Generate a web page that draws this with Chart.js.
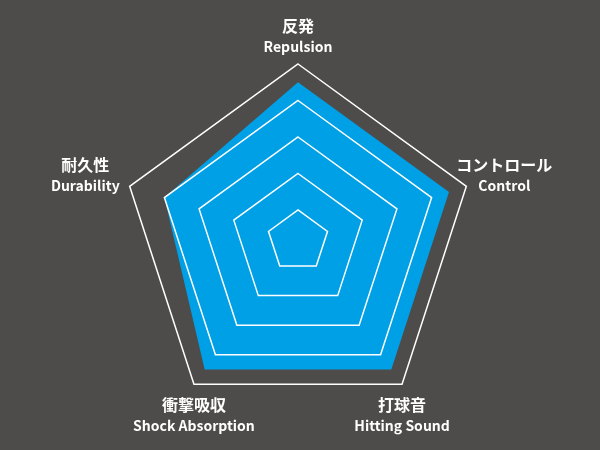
<!DOCTYPE html>
<html lang="ja">
<head>
  <meta charset="UTF-8">
  <script src="https://cdn.jsdelivr.net/npm/chart.js@4.4.0/dist/chart.umd.min.js"></script>
  <title>Radar</title>
  <style>
    body { margin: 0; background: #4e4c4a; }
  </style>
</head>
<body>
  <canvas id="myChart" width="600" height="450"></canvas>
  <script type="text/javascript">
    const labelsJa = ['反発', 'コントロール', '打球音', '衝撃吸収', '耐久性']
    const labelsEn = ['Repulsion', 'Control', 'Hitting Sound', 'Shock Absorption', 'Durability']
    const scores = [4.5, 4.5, 4.5, 4.5, 4.0]
    const scaleMin = 0.15
    const scaleMax = 5

    // two-line axis labels (japanese + english)
    const axisLabels = {
      id: 'axisLabels',
      afterDraw(chart) {
        const s = chart.scales.r
        const ctx = chart.ctx
        const jaFont = 'bold 16px "Noto Sans CJK JP"'
        const enFont = 'bold 14px "Noto Sans CJK JP"'
        ctx.save()
        ctx.fillStyle = '#ffffff'
        ctx.textAlign = 'center'
        ctx.textBaseline = 'alphabetic'
        labelsJa.forEach((ja, i) => {
          const en = labelsEn[i]
          const p = s.getPointPosition(i, s.drawingArea)
          const a = s.getIndexAngle(i)
          const sin = Math.sin(a), cos = Math.cos(a)
          ctx.font = jaFont
          const wJa = ctx.measureText(ja).width
          ctx.font = enFont
          const wEn = ctx.measureText(en).width
          const w = Math.max(wJa, wEn)
          let x = p.x, yEn
          if (Math.abs(sin) > 0.7) {
            x = sin > 0 ? p.x - 10 + w / 2 : p.x - 10 - w / 2
            yEn = p.y + 4.5
          } else if (cos > 0) {
            yEn = p.y - 12.5
          } else {
            yEn = p.y + 46.5
          }
          ctx.font = jaFont
          ctx.fillText(ja, x, yEn - 20)
          ctx.font = enFont
          ctx.fillText(en, x, yEn)
        })
        ctx.restore()
      }
    }

    const ctx = document.getElementById('myChart').getContext('2d')
    const myChart = new Chart(ctx, {
      type: 'radar',
      data: {
        labels: labelsEn,
        datasets: [{
          data: scores,
          backgroundColor: '#00a0e6',
          borderWidth: 0,
          pointRadius: 0,
          fill: true
        }]
      },
      options: {
        responsive: false,
        animation: false,
        layout: { padding: { top: 64, bottom: 32, left: 0, right: 3 } },
        plugins: {
          legend: { display: false },
          tooltip: { enabled: false }
        },
        scales: {
          r: {
            min: scaleMin,
            max: scaleMax,
            ticks: { display: false, stepSize: 1 },
            grid: { color: '#ffffff', lineWidth: 1.5, z: 1 },
            angleLines: { display: false },
            pointLabels: { display: false }
          }
        }
      },
      plugins: [axisLabels]
    })
  </script>
</body>
</html>
